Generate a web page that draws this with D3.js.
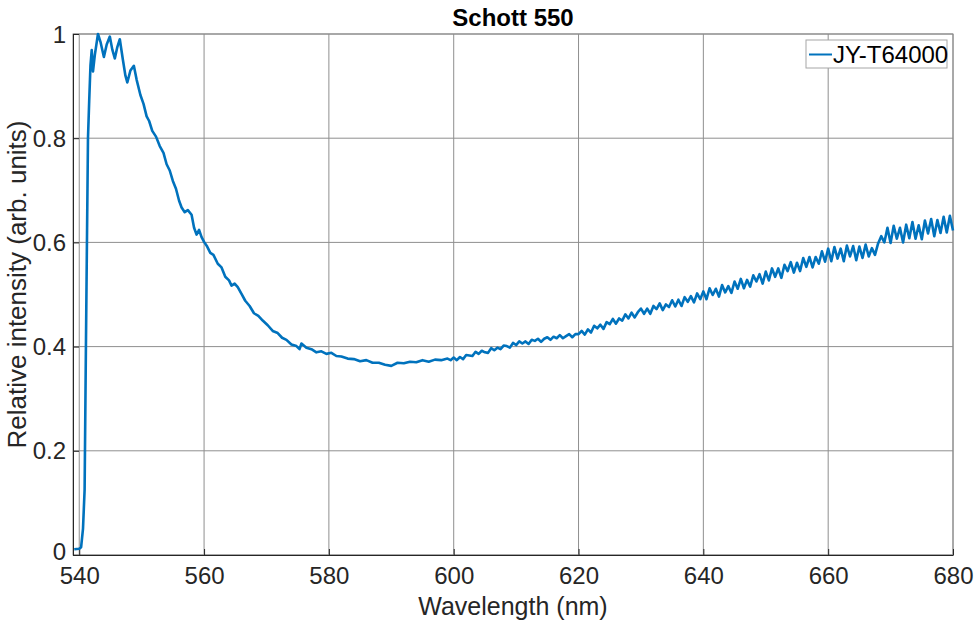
<!DOCTYPE html>
<html>
<head>
<meta charset="utf-8">
<script src="https://cdn.jsdelivr.net/npm/d3@7"></script>
<style>
  body { margin: 0; background: #fff; }
  svg { display: block; font-family: "Liberation Sans", Arial, Helvetica, sans-serif; }
</style>
</head>
<body>
<div id="root"></div>
<script>
// spectrum (nm, relative intensity)
const wavelength = [
    539.2, 540.0, 540.3, 540.6, 540.86, 541.07, 541.25, 541.4, 541.6, 541.8,
    542.0, 542.2, 542.5, 543.0, 543.4, 543.95, 544.4, 544.9, 545.3, 545.7,
    546.1, 546.5, 547.0, 547.4, 547.7, 548.2, 548.75,
    549.2, 549.8, 550.3, 550.8, 551.2, 551.7, 552.3, 552.9, 553.5, 554.0,
    554.5, 555.0, 555.5, 556.0, 556.4, 556.9, 557.4, 558.0, 558.4, 558.8,
    559.2, 559.6, 560.0, 560.5, 561.0, 561.5, 562.2, 562.8, 563.4, 564.0,
    564.4, 564.9, 565.4, 566.0, 566.6, 567.3, 568.0, 568.7, 569.4, 570.2,
    571.0, 571.8, 572.5, 573.2, 574.0, 574.8, 575.3, 575.6, 576.4, 577.2,
    578.0, 578.8, 579.6, 580.4, 581.2, 582.0, 583.0, 584.0, 585.0, 586.0,
    587.0, 588.0, 589.0, 590.0, 591.0, 592.0, 593.0, 594.0, 595.0, 596.0,
    597.0, 598.0, 599.0, 599.5,
    600.0, 600.5, 601.0, 601.5, 602.0, 602.5, 603.0, 603.5, 604.0, 604.5,
    605.0, 605.5, 606.0, 606.5, 607.0, 607.5, 608.0, 608.5, 609.0, 609.5,
    610.0, 610.5, 611.0, 611.5, 612.0, 612.5, 613.0, 613.5, 614.0, 614.5,
    615.0, 615.5, 616.0, 616.5, 617.0, 617.5, 618.0, 618.5, 619.0, 619.5,
    620.0, 620.5, 621.0, 621.5, 622.0, 622.5, 623.0, 623.5, 624.0, 624.5,
    625.0, 625.5, 626.0, 626.5, 627.0, 627.5, 628.0, 628.5, 629.0, 629.5,
    630.0, 630.5, 631.0, 631.5, 632.0, 632.5, 633.0, 633.5, 634.0, 634.5,
    635.0, 635.5, 636.0, 636.5, 637.0, 637.5, 638.0, 638.5, 639.0, 639.5,
    640.0, 640.5, 641.0, 641.5, 642.0, 642.5, 643.0, 643.5, 644.0, 644.5,
    645.0, 645.5, 646.0, 646.5, 647.0, 647.5, 648.0, 648.5, 649.0, 649.5,
    650.0, 650.5, 651.0, 651.5, 652.0, 652.5, 653.0, 653.5, 654.0, 654.5,
    655.0, 655.5, 656.0, 656.5, 657.0, 657.5, 658.0, 658.5, 659.0, 659.5,
    660.0, 660.5, 661.0, 661.5, 662.0, 662.5, 663.0, 663.5, 664.0, 664.5,
    665.0, 665.5, 666.0, 666.5, 667.0, 667.5, 668.0, 668.5, 669.0, 669.5,
    670.0, 670.5, 671.0, 671.5, 672.0, 672.5, 673.0, 673.5, 674.0, 674.5,
    675.0, 675.5, 676.0, 676.5, 677.0, 677.5, 678.0, 678.5, 679.0, 679.5,
    680.0,
];

const intensity = [
    0.011, 0.012, 0.015, 0.050, 0.125, 0.400, 0.620, 0.800, 0.873, 0.940,
    0.969, 0.928, 0.960, 1.000, 0.985, 0.956, 0.980, 0.995, 0.970, 0.953,
    0.975, 0.990, 0.950, 0.920, 0.907, 0.930, 0.939,
    0.912, 0.883, 0.866, 0.842, 0.833, 0.814, 0.803, 0.785, 0.772, 0.750,
    0.738, 0.718, 0.703, 0.680, 0.667, 0.658, 0.662, 0.653, 0.628, 0.615,
    0.624, 0.610, 0.601, 0.592, 0.580, 0.576, 0.559, 0.552, 0.534, 0.527,
    0.517, 0.521, 0.514, 0.501, 0.488, 0.478, 0.464, 0.459, 0.450, 0.441,
    0.430, 0.426, 0.417, 0.413, 0.404, 0.401, 0.395, 0.406, 0.398, 0.395,
    0.389, 0.391, 0.386, 0.388, 0.382, 0.381, 0.377, 0.376, 0.372, 0.374,
    0.369, 0.369, 0.365, 0.363, 0.369, 0.368, 0.371, 0.370, 0.374, 0.371,
    0.375, 0.374, 0.377, 0.374,
    0.379, 0.374, 0.380, 0.376, 0.384, 0.383, 0.382, 0.390, 0.386, 0.392,
    0.389, 0.388, 0.397, 0.393, 0.398, 0.395, 0.402, 0.401, 0.398, 0.407,
    0.403, 0.410, 0.406, 0.410, 0.405, 0.413, 0.411, 0.415, 0.409, 0.415,
    0.418, 0.413, 0.419, 0.416, 0.422, 0.416, 0.420, 0.424, 0.418, 0.424,
    0.424, 0.430, 0.423, 0.433, 0.427, 0.440, 0.435, 0.442, 0.434, 0.447,
    0.443, 0.453, 0.444, 0.454, 0.450, 0.462, 0.454, 0.465, 0.456, 0.466,
    0.473, 0.463, 0.473, 0.463, 0.478, 0.472, 0.483, 0.470, 0.481, 0.476,
    0.489, 0.477, 0.490, 0.478, 0.495, 0.486, 0.497, 0.485, 0.502, 0.491,
    0.506, 0.491, 0.512, 0.499, 0.511, 0.496, 0.518, 0.504, 0.516, 0.503,
    0.525, 0.511, 0.530, 0.512, 0.528, 0.515, 0.537, 0.525, 0.539, 0.521,
    0.544, 0.527, 0.550, 0.534, 0.550, 0.532, 0.557, 0.545, 0.562, 0.542,
    0.561, 0.545, 0.570, 0.553, 0.572, 0.552, 0.572, 0.559, 0.583, 0.563,
    0.588, 0.564, 0.591, 0.569, 0.588, 0.564, 0.594, 0.573, 0.593, 0.566,
    0.592, 0.570, 0.596, 0.573, 0.589, 0.576, 0.598, 0.612, 0.600, 0.628,
    0.599, 0.632, 0.607, 0.628, 0.600, 0.634, 0.608, 0.639, 0.607, 0.633,
    0.606, 0.642, 0.617, 0.645, 0.612, 0.643, 0.618, 0.649, 0.619, 0.651,
    0.623,
];

const xTicks = [540, 560, 580, 600, 620, 640, 660, 680];
const yTicks = [0, 0.2, 0.4, 0.6, 0.8, 1];
const seriesName = 'JY-T64000';

const W = 974;
const H = 621;
const plot = { left: 73, right: 953, top: 34, bottom: 555 };
const font = '"Liberation Sans", Arial, Helvetica, sans-serif';

const svg = d3.select('#root')
    .append('svg')
    .attr('width', W)
    .attr('height', H);

const x = d3.scaleLinear().domain([539, 680]).range([plot.left, plot.right]);
const y = d3.scaleLinear().domain([0, 1]).range([plot.bottom, plot.top]);

// grid
svg.append('g')
    .selectAll('line')
    .data(xTicks)
    .join('line')
    .attr('x1', d => x(d))
    .attr('x2', d => x(d))
    .attr('y1', plot.top)
    .attr('y2', plot.bottom)
    .attr('stroke', '#8f8f8f')
    .attr('stroke-width', 1);

svg.append('g')
    .selectAll('line')
    .data(yTicks)
    .join('line')
    .attr('x1', plot.left)
    .attr('x2', plot.right)
    .attr('y1', d => y(d))
    .attr('y2', d => y(d))
    .attr('stroke', '#8f8f8f')
    .attr('stroke-width', 1);

// box
svg.append('rect')
    .attr('x', plot.left)
    .attr('y', plot.top)
    .attr('width', plot.right - plot.left)
    .attr('height', plot.bottom - plot.top)
    .attr('fill', 'none')
    .attr('stroke', '#8a8a8a')
    .attr('stroke-width', 1);

// axes
const xAxis = svg.append('g')
    .attr('transform', `translate(0,${plot.bottom})`)
    .call(d3.axisBottom(x).tickValues(xTicks).tickSizeInner(-6).tickSizeOuter(0).tickPadding(12));
const yAxis = svg.append('g')
    .attr('transform', `translate(${plot.left},0)`)
    .call(d3.axisLeft(y).tickValues(yTicks).tickSizeInner(-6).tickSizeOuter(0).tickPadding(7)
        .tickFormat(d3.format('~g')));

[xAxis, yAxis].forEach(a => {
    a.select('.domain').attr('stroke', '#262626');
    a.selectAll('.tick line').attr('stroke', '#262626');
    a.selectAll('.tick text')
        .attr('fill', '#262626')
        .style('font-size', '24px')
        .style('font-family', font);
});
// the 0 label sits a touch higher so it clears the 540 label
yAxis.selectAll('.tick text').attr('dy', d => (d === 0 ? '0.2em' : '0.34em'));

// spectrum
const pts = wavelength.map((w, k) => [w, intensity[k]]);
const line = d3.line().x(d => x(d[0])).y(d => y(d[1]));

svg.append('path')
    .datum(pts)
    .attr('d', line)
    .attr('fill', 'none')
    .attr('stroke', '#0072BD')
    .attr('stroke-width', 2.6)
    .attr('stroke-linejoin', 'round');

// title and labels
svg.append('text')
    .attr('x', (plot.left + plot.right) / 2)
    .attr('y', 26)
    .attr('text-anchor', 'middle')
    .style('font-size', '24px')
    .style('font-weight', 'bold')
    .attr('fill', '#000')
    .text('Schott 550');

svg.append('text')
    .attr('x', (plot.left + plot.right) / 2)
    .attr('y', 615)
    .attr('text-anchor', 'middle')
    .style('font-size', '25px')
    .attr('fill', '#262626')
    .text('Wavelength (nm)');

svg.append('text')
    .attr('transform', `translate(26,${(plot.top + plot.bottom) / 2 - 10}) rotate(-90)`)
    .attr('text-anchor', 'middle')
    .style('font-size', '26px')
    .attr('fill', '#262626')
    .text('Relative intensity (arb. units)');

// legend
const lg = svg.append('g').attr('transform', 'translate(806,40)');
lg.append('rect')
    .attr('width', 141)
    .attr('height', 28)
    .attr('fill', '#fff')
    .attr('stroke', '#a6a6a6')
    .attr('stroke-width', 1);
lg.append('line')
    .attr('x1', 3)
    .attr('x2', 26)
    .attr('y1', 14.5)
    .attr('y2', 14.5)
    .attr('stroke', '#0072BD')
    .attr('stroke-width', 2);
lg.append('text')
    .attr('x', 27)
    .attr('y', 23)
    .style('font-size', '24px')
    .attr('fill', '#000')
    .text(seriesName);
</script>
</body>
</html>
